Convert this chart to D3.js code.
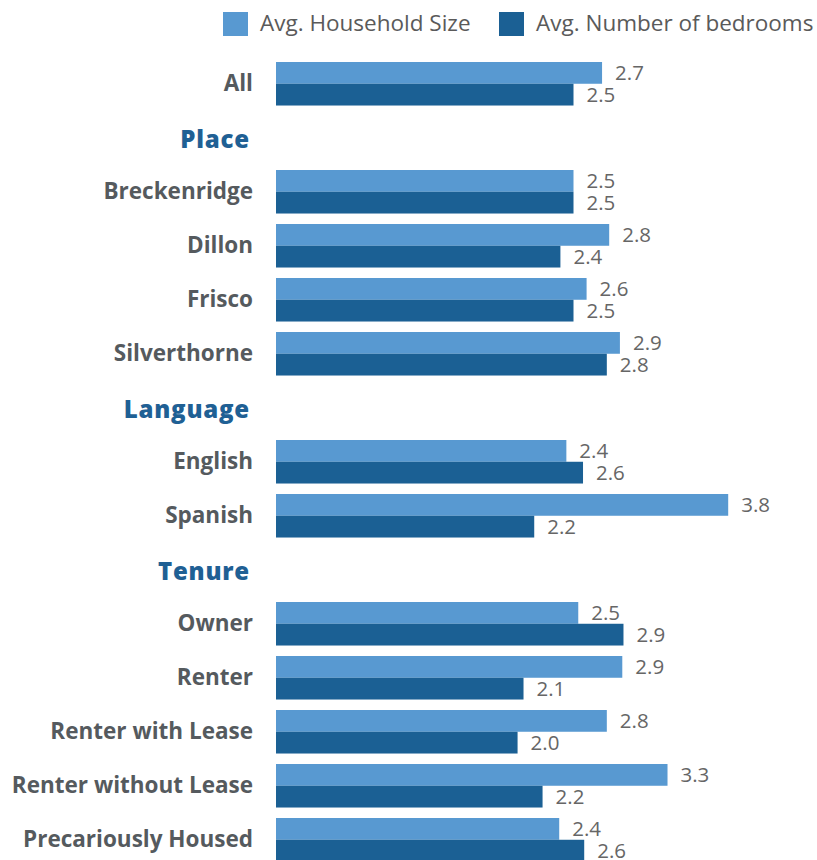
<!DOCTYPE html>
<html><head><meta charset="utf-8">
<script src="https://cdn.jsdelivr.net/npm/d3@7"></script>
<style>
html,body{margin:0;padding:0;background:#fff;}
svg{display:block;font-family:"Open Sans",sans-serif;}
</style></head>
<body>
<svg id="chart" width="817" height="860"></svg>
<script>
// Rows in display order; headings have no bars
const rows = ["All","Place","Breckenridge","Dillon","Frisco","Silverthorne","Language","English","Spanish","Tenure","Owner","Renter","Renter with Lease","Renter without Lease","Precariously Housed"];
const headings = ["Place","Language","Tenure"];
const categories = ["All","Breckenridge","Dillon","Frisco","Silverthorne","English","Spanish","Owner","Renter","Renter with Lease","Renter without Lease","Precariously Housed"];
const householdSize = [2.74,2.50,2.80,2.61,2.89,2.44,3.80,2.54,2.91,2.78,3.29,2.38];
const bedrooms      = [2.50,2.50,2.39,2.50,2.78,2.58,2.17,2.92,2.08,2.03,2.24,2.59];
const seriesNames = ["Avg. Household Size","Avg. Number of bedrooms"];
const colors = ["#5899d1","#1b6094"];

const data = categories.map((c,i)=>({cat:c, values:[householdSize[i], bedrooms[i]]}));

const svg = d3.select("#chart");
const x0 = 276;
const x = d3.scaleLinear().domain([0,1]).range([x0, x0+119]);
const step = 54, pIn = 0.194;
const yStart = 62 - step*pIn/2;
const y = d3.scaleBand().domain(rows).range([yStart, yStart + step*rows.length]).paddingInner(pIn).paddingOuter(pIn/2);
const ySub = d3.scaleBand().domain([0,1]).range([0, y.bandwidth()]);
const fmt = d3.format(".1f");

// Legend
const legend = svg.append("g");
const legX = [223, 499];
seriesNames.forEach((s,i)=>{
  legend.append("rect").attr("x",legX[i]).attr("y",12).attr("width",25).attr("height",24).attr("fill",colors[i]);
  legend.append("text").attr("x",legX[i]+37).attr("y",23.5).attr("dy","0.35em")
    .attr("font-size",22.5).attr("fill","#5a5a5a").text(s);
});

// Headings
svg.append("g").selectAll("text").data(headings).join("text")
  .attr("x",250).attr("y",d=>y(d)+y.bandwidth()/2+2).attr("dy","0.35em")
  .attr("text-anchor","end").attr("font-size",24).attr("font-weight",800)
  .attr("letter-spacing",0.8)
  .attr("fill","#1f6094").text(d=>d);

// Category labels
svg.append("g").selectAll("text").data(categories).join("text")
  .attr("x",253).attr("y",d=>y(d)+y.bandwidth()/2-1).attr("dy","0.35em")
  .attr("text-anchor","end").attr("font-size",22.5).attr("font-weight",700)
  .attr("fill","#555a5e").text(d=>d);

// Bars
const groups = svg.append("g").selectAll("g").data(data).join("g")
  .attr("transform",d=>`translate(0,${y(d.cat)})`);
groups.selectAll("rect").data(d=>d.values.map((v,i)=>({v,i}))).join("rect")
  .attr("x",x(0)).attr("y",d=>ySub(d.i)).attr("width",d=>x(d.v)-x(0)).attr("height",ySub.bandwidth())
  .attr("fill",d=>colors[d.i]);
groups.selectAll("text").data(d=>d.values.map((v,i)=>({v,i}))).join("text")
  .attr("x",d=>x(d.v)+13).attr("y",d=>ySub(d.i)+ySub.bandwidth()/2).attr("dy","0.35em")
  .attr("font-size",20.5).attr("fill","#666").text(d=>fmt(d.v));
</script>
</body></html>
